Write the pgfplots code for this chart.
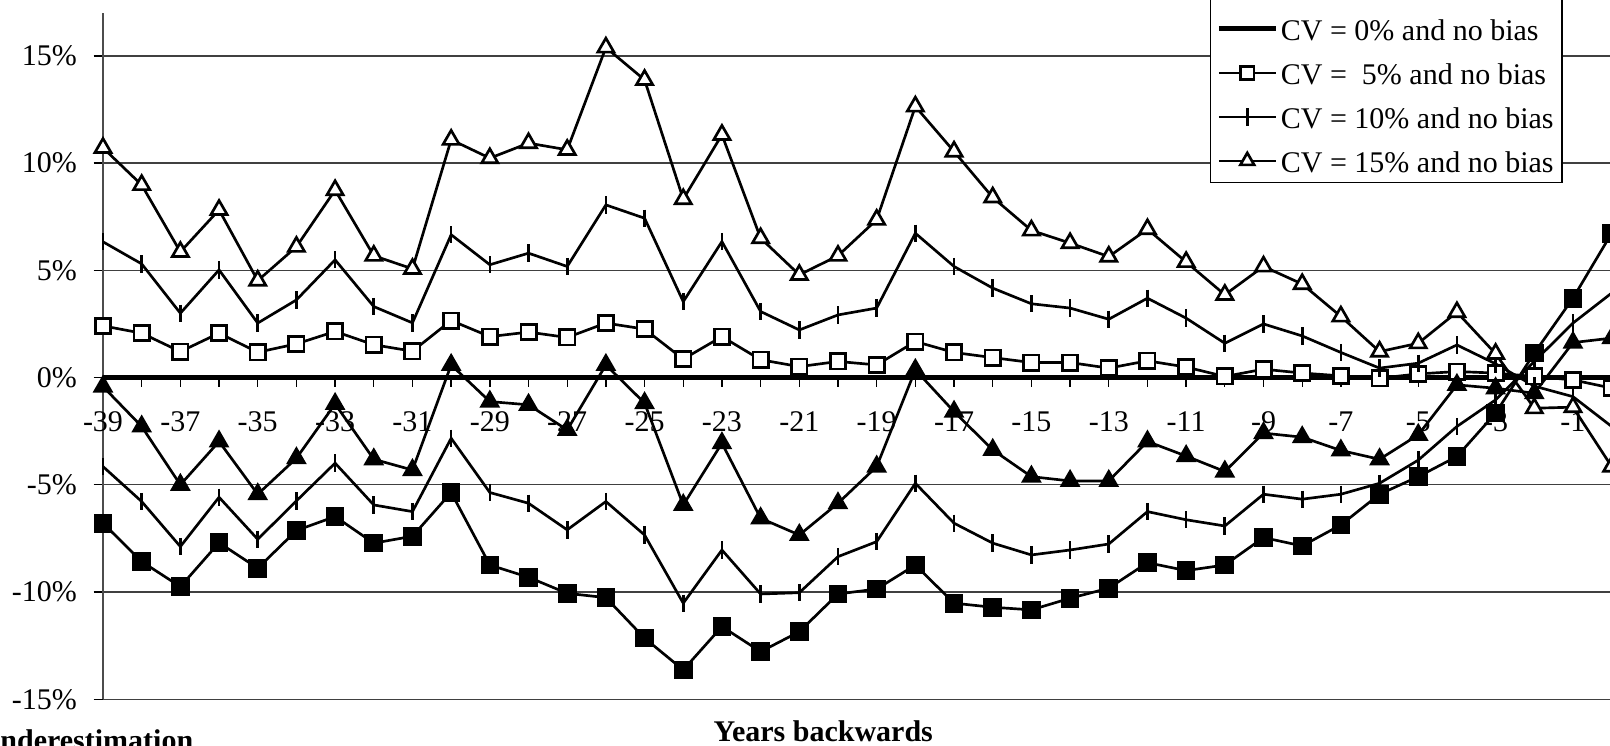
\documentclass[border=0pt]{standalone}
\usepackage{fontspec}
\setmainfont{Liberation Serif}
\usepackage{pgfplots}
\usepackage{pgfplotstable}
\pgfplotsset{compat=1.18}

\pgfplotstableread{
year zero s p t ft q fs
-39 0 2.41 6.33 10.71 -0.42 -4.15 -6.79
-38 0 2.07 5.30 8.98 -2.28 -5.78 -8.58
-37 0 1.21 3.00 5.86 -5.00 -7.88 -9.75
-36 0 2.07 5.02 7.82 -2.98 -5.58 -7.70
-35 0 1.18 2.54 4.52 -5.44 -7.54 -8.89
-34 0 1.57 3.62 6.10 -3.76 -5.75 -7.13
-33 0 2.15 5.49 8.74 -1.23 -3.99 -6.48
-32 0 1.53 3.31 5.68 -3.81 -5.94 -7.72
-31 0 1.23 2.55 5.07 -4.31 -6.25 -7.40
-30 0 2.66 6.66 11.09 0.59 -2.83 -5.36
-29 0 1.91 5.26 10.23 -1.12 -5.36 -8.74
-28 0 2.12 5.80 10.93 -1.27 -5.86 -9.31
-27 0 1.87 5.18 10.62 -2.44 -7.10 -10.06
-26 0 2.54 8.05 15.39 0.59 -5.78 -10.26
-25 0 2.26 7.43 13.88 -1.19 -7.34 -12.15
-24 0 0.86 3.54 8.32 -5.94 -10.52 -13.63
-23 0 1.91 6.34 11.32 -3.06 -8.04 -11.61
-22 0 0.83 3.08 6.50 -6.56 -10.09 -12.78
-21 0 0.51 2.22 4.79 -7.34 -10.03 -11.85
-20 0 0.75 2.92 5.68 -5.86 -8.35 -10.09
-19 0 0.59 3.24 7.36 -4.15 -7.65 -9.86
-18 0 1.68 6.73 12.64 0.36 -4.93 -8.74
-17 0 1.17 5.18 10.54 -1.59 -6.79 -10.52
-16 0 0.93 4.17 8.40 -3.37 -7.72 -10.71
-15 0 0.70 3.44 6.86 -4.62 -8.27 -10.83
-14 0 0.70 3.24 6.27 -4.82 -8.04 -10.29
-13 0 0.44 2.72 5.64 -4.82 -7.76 -9.82
-12 0 0.78 3.70 6.92 -2.98 -6.25 -8.63
-11 0 0.49 2.77 5.39 -3.66 -6.63 -9.00
-10 0 0.05 1.60 3.86 -4.38 -6.92 -8.74
-9 0 0.39 2.50 5.18 -2.59 -5.44 -7.46
-8 0 0.21 1.94 4.36 -2.78 -5.67 -7.85
-7 0 0.08 1.17 2.85 -3.40 -5.44 -6.87
-6 0 -0.03 0.44 1.21 -3.81 -4.93 -5.44
-5 0 0.17 0.67 1.60 -2.67 -3.85 -4.62
-4 0 0.28 1.52 3.05 -0.34 -2.28 -3.68
-3 0 0.21 0.64 1.11 -0.50 -1.04 -1.66
-2 0 0.05 -0.40 -1.43 -0.73 0.75 1.14
-1 0 -0.11 -0.89 -1.38 1.63 2.54 3.70
0 0 -0.49 -2.28 -4.15 1.84 3.94 6.73
}\data

\begin{document}
\begin{tikzpicture}[font=\fontsize{9}{11}\selectfont]
\begin{axis}[
  at={(30.9pt,14.01pt)}, anchor=south west,
  scale only axis, width=452.6pt, height=205.9pt,
  xmin=-39, xmax=0, ymin=-15, ymax=17,
  axis x line=middle, axis y line=left,
  x axis line style={-, draw=black, line width=0.4pt},
  y axis line style={-, draw=black!70, line width=0.4pt},
  hide obscured x ticks=false, hide obscured y ticks=false,
  xtick={-39,-37,...,-1},
  xticklabels={-39,-37,-35,-33,-31,-29,-27,-25,-23,-21,-19,-17,-15,-13,-11,-9,-7,-5,-3,-1},
  minor x tick num=1,
  ytick={-15,-10,...,15},
  yticklabels={-15\%,-10\%,-5\%,0\%,5\%,10\%,15\%},
  ymajorgrids, major grid style={black!75, line width=0.4pt},
  tick align=outside, major tick length=2.8pt, minor tick length=2.8pt,
  tick style={black, line width=0.4pt},
  xticklabel style={anchor=base, yshift=-13.3pt},
  yticklabel style={xshift=-1.5pt},
  clip=false,
  legend style={at={(0.9675,0.7519)}, anchor=south east, draw=black, line width=0.4pt,
    inner xsep=1.7pt, inner ysep=0.5pt, row sep=1.2pt,
    nodes={inner xsep=0.8pt, inner ysep=2pt, text height=7.5pt, text depth=0.5pt},
    cells={anchor=west}, font=\fontsize{9}{11}\selectfont},
]
\addlegendimage{empty legend}\addlegendentry{}
\addlegendimage{black, line width=1.5pt}\addlegendentry{CV = 0\% and no bias}
\addlegendimage{black, line width=0.8pt, mark=square*, mark size=2pt, mark options={fill=white, solid}}\addlegendentry{CV =\ \ 5\% and no bias}
\addlegendimage{black, line width=0.8pt, mark=|, mark size=2.6pt, mark options={solid}}\addlegendentry{CV = 10\% and no bias}
\addlegendimage{black, line width=0.8pt, mark=triangle*, mark size=2.4pt, mark options={fill=white, solid}}\addlegendentry{CV = 15\% and no bias}

\addplot[black, line width=1.5pt, forget plot] table[x=year, y=zero]{\data};
\addplot[black, line width=0.8pt, mark=square*, mark size=2.3pt, mark options={fill=white, solid}, forget plot] table[x=year, y=s]{\data};
\addplot[black, line width=0.8pt, mark=|, mark size=2.6pt, mark options={solid}, forget plot] table[x=year, y=p]{\data};
\addplot[black, line width=0.8pt, mark=triangle*, mark size=2.8pt, mark options={fill=white, solid}, forget plot] table[x=year, y=t]{\data};
\addplot[black, line width=0.8pt, mark=triangle*, mark size=2.8pt, mark options={fill=black, solid}, forget plot] table[x=year, y=ft]{\data};
\addplot[black, line width=0.8pt, mark=|, mark size=2.6pt, mark options={solid}, forget plot] table[x=year, y=q]{\data};
\addplot[black, line width=0.8pt, mark=square*, mark size=2.4pt, mark options={fill=black, solid}, forget plot] table[x=year, y=fs]{\data};
\end{axis}
\node[anchor=base east, font=\fontsize{9}{11}\selectfont\bfseries] at (61.5pt,-1.5pt) {Underestimation};
\node[anchor=base, font=\fontsize{9}{11}\selectfont\bfseries] at (247pt,1.2pt) {Years backwards};
\pgfresetboundingbox
\useasboundingbox (0,0) rectangle (483pt,223.8pt);
\end{tikzpicture}
\end{document}
